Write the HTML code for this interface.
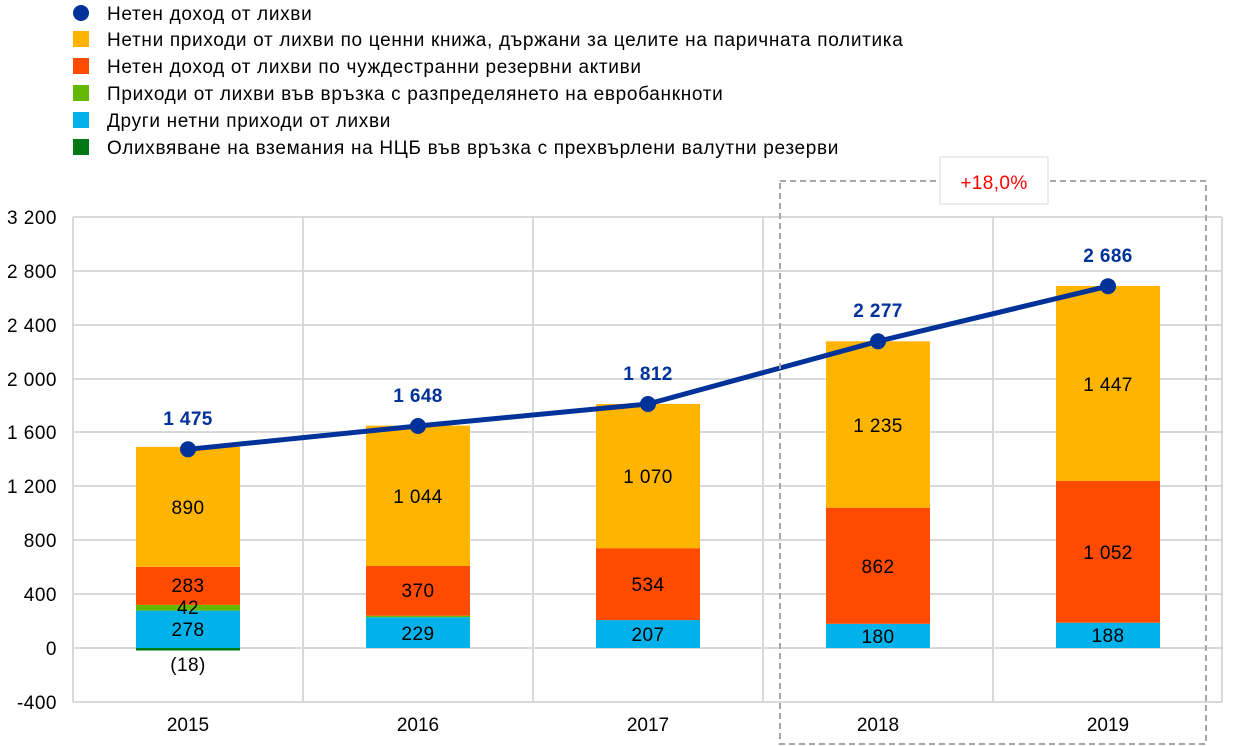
<!DOCTYPE html>
<html><head><meta charset="utf-8"><style>body{margin:0;background:#fff}svg{display:block}</style></head><body>
<svg width="1240" height="746" viewBox="0 0 1240 746" xmlns="http://www.w3.org/2000/svg" font-family="Liberation Sans, DejaVu Sans, sans-serif">
<g font-size="19" fill="#000" letter-spacing="0.68">
<circle cx="81" cy="13" r="8" fill="#003299"/><text x="107" y="20">Нетен доход от лихви</text>
<rect x="73" y="31" width="16" height="16" fill="#ffb400"/><text x="107" y="46">Нетни приходи от лихви по ценни книжа, държани за целите на паричната политика</text>
<rect x="73" y="58" width="16" height="16" fill="#ff4b00"/><text x="107" y="73">Нетен доход от лихви по чуждестранни резервни активи</text>
<rect x="73" y="85" width="16" height="16" fill="#65b800"/><text x="107" y="100">Приходи от лихви във връзка с разпределянето на евробанкноти</text>
<rect x="73" y="112" width="16" height="16" fill="#00b1ea"/><text x="107" y="127">Други нетни приходи от лихви</text>
<rect x="73" y="139" width="16" height="16" fill="#007816"/><text x="107" y="154">Олихвяване на вземания на НЦБ във връзка с прехвърлени валутни резерви</text>
</g>
<g stroke="#d9d9d9" stroke-width="2">
<line x1="73" y1="217" x2="1222" y2="217"/><line x1="73" y1="271" x2="1222" y2="271"/><line x1="73" y1="325" x2="1222" y2="325"/><line x1="73" y1="379" x2="1222" y2="379"/><line x1="73" y1="432" x2="1222" y2="432"/><line x1="73" y1="486" x2="1222" y2="486"/><line x1="73" y1="540" x2="1222" y2="540"/><line x1="73" y1="594" x2="1222" y2="594"/><line x1="73" y1="648" x2="1222" y2="648"/><line x1="73" y1="702" x2="1222" y2="702"/>
<line x1="73" y1="217" x2="73" y2="702"/><line x1="303" y1="217" x2="303" y2="702"/><line x1="533" y1="217" x2="533" y2="702"/><line x1="763" y1="217" x2="763" y2="702"/><line x1="993" y1="217" x2="993" y2="702"/><line x1="1222" y1="217" x2="1222" y2="702"/>
</g>
<g font-size="19" text-anchor="end" letter-spacing="0.5">
<text x="57" y="224">3 200</text><text x="57" y="278">2 800</text><text x="57" y="332">2 400</text><text x="57" y="386">2 000</text><text x="57" y="439">1 600</text><text x="57" y="493">1 200</text><text x="57" y="547">800</text><text x="57" y="601">400</text><text x="57" y="655">0</text><text x="57" y="709">-400</text>
</g>
<g font-size="19" text-anchor="middle">
<text x="188" y="731">2015</text><text x="418" y="731">2016</text><text x="648" y="731">2017</text><text x="878" y="731">2018</text><text x="1108" y="731">2019</text>
</g>
<g>
<rect x="136" y="610.6" width="104" height="37.4" fill="#00b1ea"/><rect x="136" y="604.9" width="104" height="5.7" fill="#65b800"/><rect x="136" y="566.8" width="104" height="38.1" fill="#ff4b00"/><rect x="136" y="446.9" width="104" height="119.9" fill="#ffb400"/><rect x="136" y="648" width="104" height="2.5" fill="#007816"/>
<rect x="366" y="617.2" width="104" height="30.8" fill="#00b1ea"/><rect x="366" y="615.7" width="104" height="1.5" fill="#65b800"/><rect x="366" y="566" width="104" height="49.7" fill="#ff4b00"/><rect x="366" y="425.6" width="104" height="140.4" fill="#ffb400"/>
<rect x="596" y="620.1" width="104" height="27.9" fill="#00b1ea"/><rect x="596" y="548.2" width="104" height="71.9" fill="#ff4b00"/><rect x="596" y="404" width="104" height="144.2" fill="#ffb400"/>
<rect x="826" y="623.8" width="104" height="24.2" fill="#00b1ea"/><rect x="826" y="507.7" width="104" height="116.1" fill="#ff4b00"/><rect x="826" y="341.3" width="104" height="166.4" fill="#ffb400"/>
<rect x="1056" y="622.7" width="104" height="25.3" fill="#00b1ea"/><rect x="1056" y="481" width="104" height="141.7" fill="#ff4b00"/><rect x="1056" y="286" width="104" height="195" fill="#ffb400"/>
</g>
<g font-size="19" text-anchor="middle" fill="#000" letter-spacing="0.4">
<text x="188" y="514">890</text><text x="188" y="592">283</text><text x="188" y="614">42</text><text x="188" y="636">278</text><text x="188" y="671">(18)</text>
<text x="418" y="503">1 044</text><text x="418" y="597">370</text><text x="418" y="640">229</text>
<text x="648" y="483">1 070</text><text x="648" y="591">534</text><text x="648" y="641">207</text>
<text x="878" y="432">1 235</text><text x="878" y="573">862</text><text x="878" y="643">180</text>
<text x="1108" y="391">1 447</text><text x="1108" y="559">1 052</text><text x="1108" y="642">188</text>
</g>
<polyline points="188,449.3 418,426 648,404 878,341.3 1108,286.2" fill="none" stroke="#003299" stroke-width="5" stroke-linejoin="round"/>
<g fill="#003299"><circle cx="188" cy="449.3" r="8"/><circle cx="418" cy="426" r="8"/><circle cx="648" cy="404" r="8"/><circle cx="878" cy="341.3" r="8"/><circle cx="1108" cy="286.2" r="8"/></g>
<g font-size="19" font-weight="bold" fill="#003299" text-anchor="middle" letter-spacing="0.4">
<text x="188" y="425">1 475</text><text x="418" y="402">1 648</text><text x="648" y="380">1 812</text><text x="878" y="317">2 277</text><text x="1108" y="262">2 686</text>
</g>
<rect x="780" y="181" width="426" height="563" fill="none" stroke="#a6a6a6" stroke-width="2" stroke-dasharray="6,4"/>
<rect x="940" y="157" width="108" height="47" fill="#fff" stroke="#d9d9d9" stroke-width="1"/>
<text x="994" y="189" font-size="19" fill="#ff0000" text-anchor="middle" letter-spacing="0.4">+18,0%</text>
</svg>
</body></html>
